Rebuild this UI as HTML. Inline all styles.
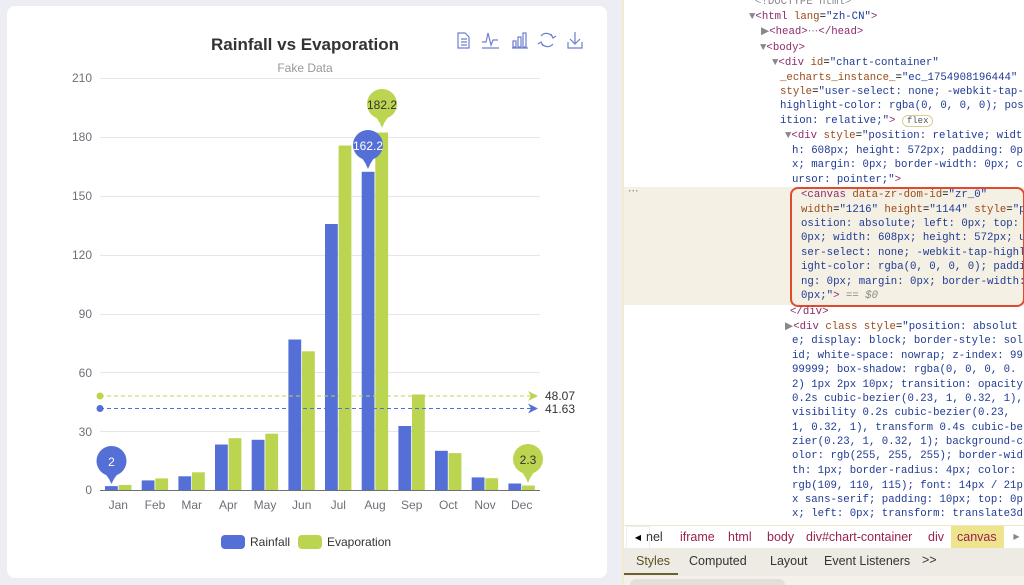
<!DOCTYPE html>
<html><head><meta charset="utf-8"><style>
body{margin:0;width:1024px;height:585px;overflow:hidden;background:#eceef3;position:relative;font-family:"Liberation Sans",sans-serif}
#card{position:absolute;left:7px;top:6px;width:600px;height:572px;background:#fff;border-radius:8px}
svg{position:absolute;left:0;top:0}
#dt{position:absolute;left:622px;top:0;width:402px;height:585px;background:#fff;border-left:2px solid #f0ecd0;overflow:hidden;font-family:"Liberation Mono",monospace;font-size:10.7px}
.l{position:absolute;white-space:nowrap;line-height:14px}
.t{color:#8e2a6b}.a{color:#9a4a1a}.v{color:#1f3a93}.g{color:#888}
#hl{position:absolute;left:0;top:187px;width:402px;height:118px;background:#f4f0e4}
#box{position:absolute;left:166px;top:187px;width:231px;height:116px;border:2px solid #e04a30;border-radius:8px}
#crumb{position:absolute;left:0;top:525px;width:402px;height:23px;background:#fff;border-top:1px solid #eee8c8;font-family:"Liberation Sans",sans-serif;font-size:12.5px}
#tabs{position:absolute;left:0;top:548px;width:402px;height:28px;background:#edebe3;font-family:"Liberation Sans",sans-serif;font-size:12.5px;color:#333}
#bot{position:absolute;left:0;top:576px;width:402px;height:9px;background:#f3f1ea}
</style></head><body>
<div id="card"></div>
<svg width="620" height="585" viewBox="0 0 620 585" font-family="Liberation Sans, sans-serif">
<text x="305" y="50" text-anchor="middle" font-size="17" font-weight="bold" fill="#333">Rainfall vs Evaporation</text>
<text x="305" y="72" text-anchor="middle" font-size="12" fill="#999">Fake Data</text>
<g stroke="#6f7fcf" stroke-width="1.2" fill="none">
<path d="M458 33h7l4 4v11h-11z M461 39h6 M461 42h6 M461 45h6"/>
<path d="M482 48h17 M482 42h4l2-9 3 12 2-5h5"/>
<path d="M512 48h16 M513 41h3v6h-3z M518 37h3v10h-3z M523 33h3v14h-3z"/>
<path d="M541 36a7 7 0 0 1 12 2 M553 44a7 7 0 0 1-12-2 M551 34l2 4 3-2 M543 46l-2-4-3 2"/>
<path d="M575 32v12 M570 39l5 5 5-5 M568 42v6h14v-6"/>
</g>
<g stroke="#e6e6e6" stroke-width="1">
<line x1="100" x2="540" y1="78.5" y2="78.5"/><line x1="100" x2="540" y1="137.5" y2="137.5"/><line x1="100" x2="540" y1="196.5" y2="196.5"/><line x1="100" x2="540" y1="255.5" y2="255.5"/><line x1="100" x2="540" y1="314.5" y2="314.5"/><line x1="100" x2="540" y1="372.5" y2="372.5"/><line x1="100" x2="540" y1="431.5" y2="431.5"/>
</g>
<line x1="100" x2="540" y1="490.5" y2="490.5" stroke="#6e7079"/>
<g font-size="12" fill="#6e7079" text-anchor="end">
<text x="92" y="82">210</text><text x="92" y="141">180</text><text x="92" y="200">150</text><text x="92" y="259">120</text><text x="92" y="318">90</text><text x="92" y="377">60</text><text x="92" y="436">30</text><text x="92" y="494">0</text>
</g>
<g font-size="12" fill="#6e7079" text-anchor="middle">
<text x="118.3" y="509">Jan</text><text x="155" y="509">Feb</text><text x="191.7" y="509">Mar</text><text x="228.3" y="509">Apr</text><text x="265" y="509">May</text><text x="301.7" y="509">Jun</text><text x="338.3" y="509">Jul</text><text x="375" y="509">Aug</text><text x="411.7" y="509">Sep</text><text x="448.3" y="509">Oct</text><text x="485" y="509">Nov</text><text x="521.7" y="509">Dec</text>
</g>
<g fill="#5470d6">
<rect x="105" y="486.1" width="12.8" height="3.9"/><rect x="141.7" y="480.4" width="12.8" height="9.6"/><rect x="178.4" y="476.3" width="12.8" height="13.7"/><rect x="215" y="444.5" width="12.8" height="45.5"/><rect x="251.7" y="439.8" width="12.8" height="50.2"/><rect x="288.4" y="339.5" width="12.8" height="150.5"/><rect x="325" y="224" width="12.8" height="266"/><rect x="361.7" y="171.8" width="12.8" height="318.2"/><rect x="398.4" y="426" width="12.8" height="64"/><rect x="435" y="450.8" width="12.8" height="39.2"/><rect x="471.7" y="477.4" width="12.8" height="12.6"/><rect x="508.4" y="483.5" width="12.8" height="6.5"/>
</g>
<g fill="#bbd550">
<rect x="118.6" y="484.9" width="12.8" height="5.1"/><rect x="155.3" y="478.4" width="12.8" height="11.6"/><rect x="192" y="472.3" width="12.8" height="17.7"/><rect x="228.6" y="438.2" width="12.8" height="51.8"/><rect x="265.3" y="433.7" width="12.8" height="56.3"/><rect x="302" y="351.3" width="12.8" height="138.7"/><rect x="338.6" y="145.5" width="12.8" height="344.5"/><rect x="375.3" y="132.5" width="12.8" height="357.5"/><rect x="412" y="394.5" width="12.8" height="95.5"/><rect x="448.6" y="453.1" width="12.8" height="36.9"/><rect x="485.3" y="478.2" width="12.8" height="11.8"/><rect x="522" y="485.5" width="12.8" height="4.5"/>
</g>
<line x1="100" x2="534" y1="396" y2="396" stroke="#bbd550" stroke-dasharray="4,3"/>
<line x1="100" x2="534" y1="408.5" y2="408.5" stroke="#5470d6" stroke-dasharray="4,3"/>
<circle cx="100" cy="396" r="3.5" fill="#bbd550"/><circle cx="100" cy="408.5" r="3.5" fill="#5470d6"/>
<path d="M528 391l10 5-10 5 3-5z" fill="#bbd550"/><path d="M528 403.5l10 5-10 5 3-5z" fill="#5470d6"/>
<text x="545" y="400" font-size="12" fill="#333">48.07</text><text x="545" y="413" font-size="12" fill="#333">41.63</text>
<g>
<circle cx="368" cy="145" r="15" fill="#5470d6"/><path d="M355 152Q364 158 368 169Q372 158 381 152Z" fill="#5470d6"/>
<text x="368" y="150" font-size="12" fill="#fff" text-anchor="middle">162.2</text>
<circle cx="382" cy="104" r="15" fill="#bbd550"/><path d="M369 111Q378 117 382 128Q386 117 395 111Z" fill="#bbd550"/>
<text x="382" y="109" font-size="12" fill="#333" text-anchor="middle">182.2</text>
<circle cx="111.5" cy="461" r="15" fill="#5470d6"/><path d="M98.5 468Q107.5 474 111.5 484Q115.5 474 124.5 468Z" fill="#5470d6"/>
<text x="111.5" y="466" font-size="12" fill="#fff" text-anchor="middle">2</text>
<circle cx="528" cy="459" r="15" fill="#bbd550"/><path d="M515 466Q524 472 528 483Q532 472 541 466Z" fill="#bbd550"/>
<text x="528" y="464" font-size="12" fill="#333" text-anchor="middle">2.3</text>
</g>
<rect x="221" y="535" width="24" height="14" rx="4" fill="#5470d6"/><text x="250" y="546" font-size="12" fill="#333">Rainfall</text>
<rect x="298" y="535" width="24" height="14" rx="4" fill="#bbd550"/><text x="327" y="546" font-size="12" fill="#333">Evaporation</text>
</svg>
<div id="dt">
<div id="hl"></div>
<div class="l g" style="left:131px;top:-5px">&lt;!DOCTYPE html&gt;</div>
<div class="l" style="left:125px;top:10px"><span class="g">▼</span><span class="t">&lt;html</span> <span class="a">lang</span>=<span class="v">"zh-CN"</span><span class="t">&gt;</span></div>
<div class="l" style="left:137px;top:25px"><span class="g">▶</span><span class="t">&lt;head&gt;</span><span class="g">⋯</span><span class="t">&lt;/head&gt;</span></div>
<div class="l" style="left:136px;top:41px"><span class="g">▼</span><span class="t">&lt;body&gt;</span></div>
<div class="l" style="left:148px;top:56px"><span class="g">▼</span><span class="t">&lt;div</span> <span class="a">id</span>=<span class="v">"chart-container"</span></div>
<div class="l" style="left:156px;top:71px"><span class="a">_echarts_instance_</span>=<span class="v">"ec_1754908196444"</span></div>
<div class="l" style="left:156px;top:85px"><span class="a">style</span>=<span class="v">"user-select: none; -webkit-tap-</span></div>
<div class="l v" style="left:156px;top:99px">highlight-color: rgba(0, 0, 0, 0); pos</div>
<div class="l" style="left:156px;top:114px"><span class="v">ition: relative;"</span><span class="t">&gt;</span> <span style="border:1px solid #d8cf90;border-radius:8px;padding:0 4px;font-size:9px;color:#555">flex</span></div>
<div class="l" style="left:161px;top:129px"><span class="g">▼</span><span class="t">&lt;div</span> <span class="a">style</span>=<span class="v">"position: relative; widt</span></div>
<div class="l v" style="left:168px;top:144px">h: 608px; height: 572px; padding: 0p</div>
<div class="l v" style="left:168px;top:158px">x; margin: 0px; border-width: 0px; c</div>
<div class="l" style="left:168px;top:173px"><span class="v">ursor: pointer;"</span><span class="t">&gt;</span></div>
<div class="l g" style="left:4px;top:185px">⋯</div>
<div class="l" style="left:177px;top:188px"><span class="t">&lt;canvas</span> <span class="a">data-zr-dom-id</span>=<span class="v">"zr_0"</span></div>
<div class="l" style="left:177px;top:203px"><span class="a">width</span>=<span class="v">"1216"</span> <span class="a">height</span>=<span class="v">"1144"</span> <span class="a">style</span>=<span class="v">"p</span></div>
<div class="l v" style="left:177px;top:217px">osition: absolute; left: 0px; top:</div>
<div class="l v" style="left:177px;top:231px">0px; width: 608px; height: 572px; u</div>
<div class="l v" style="left:177px;top:246px">ser-select: none; -webkit-tap-highl</div>
<div class="l v" style="left:177px;top:260px">ight-color: rgba(0, 0, 0, 0); paddi</div>
<div class="l v" style="left:177px;top:275px">ng: 0px; margin: 0px; border-width:</div>
<div class="l" style="left:177px;top:289px"><span class="v">0px;"</span><span class="t">&gt;</span> <span class="g">== <i>$0</i></span></div>
<div id="box"></div>
<div class="l t" style="left:166px;top:305px">&lt;/div&gt;</div>
<div class="l" style="left:161px;top:320px"><span class="g">▶</span><span class="t">&lt;div</span> <span class="a">class style</span>=<span class="v">"position: absolut</span></div>
<div class="l v" style="left:168px;top:334px">e; display: block; border-style: sol</div>
<div class="l v" style="left:168px;top:349px">id; white-space: nowrap; z-index: 99</div>
<div class="l v" style="left:168px;top:363px">99999; box-shadow: rgba(0, 0, 0, 0.</div>
<div class="l v" style="left:168px;top:378px">2) 1px 2px 10px; transition: opacity</div>
<div class="l v" style="left:168px;top:392px">0.2s cubic-bezier(0.23, 1, 0.32, 1),</div>
<div class="l v" style="left:168px;top:406px">visibility 0.2s cubic-bezier(0.23,</div>
<div class="l v" style="left:168px;top:421px">1, 0.32, 1), transform 0.4s cubic-be</div>
<div class="l v" style="left:168px;top:435px">zier(0.23, 1, 0.32, 1); background-c</div>
<div class="l v" style="left:168px;top:449px">olor: rgb(255, 255, 255); border-wid</div>
<div class="l v" style="left:168px;top:464px">th: 1px; border-radius: 4px; color:</div>
<div class="l v" style="left:168px;top:479px">rgb(109, 110, 115); font: 14px / 21p</div>
<div class="l v" style="left:168px;top:493px">x sans-serif; padding: 10px; top: 0p</div>
<div class="l v" style="left:168px;top:507px">x; left: 0px; transform: translate3d</div>
<div id="crumb">
<span style="position:absolute;left:2px;top:0;width:22px;height:22px;border:1px solid #eee;text-align:center;line-height:22px;font-size:8px">◀</span>
<span style="position:absolute;left:22px;top:4px;color:#333">nel</span>
<span style="position:absolute;left:56px;top:4px;color:#9a2050">iframe</span>
<span style="position:absolute;left:104px;top:4px;color:#9a2050">html</span>
<span style="position:absolute;left:143px;top:4px;color:#9a2050">body</span>
<span style="position:absolute;left:182px;top:4px;color:#9a2050">div#chart-container</span>
<span style="position:absolute;left:304px;top:4px;color:#9a2050">div</span>
<span style="position:absolute;left:327px;top:0;width:53px;height:23px;background:#eee48e"></span>
<span style="position:absolute;left:333px;top:4px;color:#9a2050">canvas</span>
<span style="position:absolute;left:385px;top:0;width:15px;height:22px;text-align:center;line-height:22px;font-size:8px;color:#888">▶</span>
</div>
<div id="tabs">
<span style="position:absolute;left:12px;top:6px;color:#5a5220">Styles</span>
<span style="position:absolute;left:0;top:25px;width:54px;height:2px;background:#6a6030"></span>
<span style="position:absolute;left:65px;top:6px">Computed</span>
<span style="position:absolute;left:146px;top:6px">Layout</span>
<span style="position:absolute;left:200px;top:6px">Event Listeners</span>
<span style="position:absolute;left:298px;top:5px">&gt;&gt;</span>
</div>
<div id="bot"><span style="position:absolute;left:6px;top:3px;width:155px;height:12px;background:#e2e0da;border-radius:6px"></span></div>
</div>
</body></html>
